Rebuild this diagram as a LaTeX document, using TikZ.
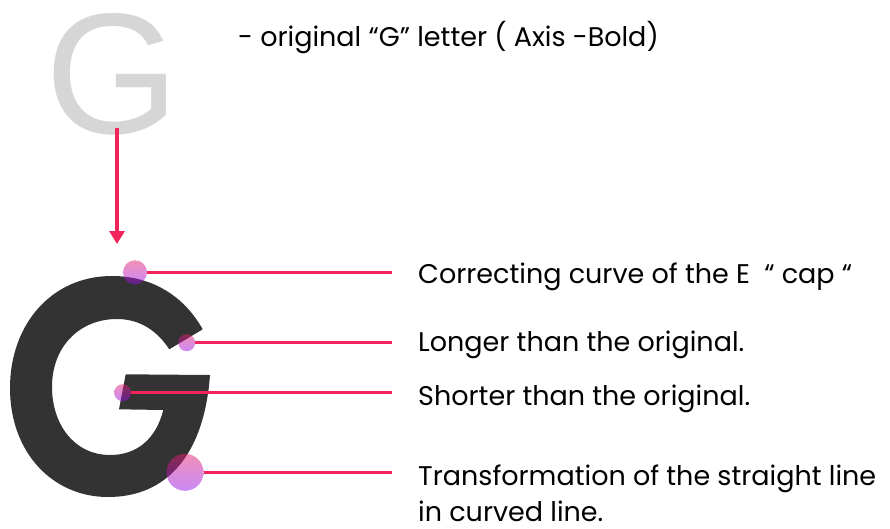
\documentclass[tikz,border=0pt]{standalone}
\usepackage{fontspec}
\setmainfont{Poppins}
\newfontfamily\glyphfont{Liberation Sans}
\usetikzlibrary{arrows.meta}
\definecolor{lead}{HTML}{F2245C}
\definecolor{ink}{HTML}{333333}
\definecolor{ghost}{HTML}{D6D6D6}
\definecolor{dotpink}{HTML}{E5206E}
\definecolor{dotlilac}{HTML}{9414F2}
\begin{document}
\begin{tikzpicture}[x=1pt, y=-1pt,
    every node/.style={inner sep=0pt, font=\fontsize{27}{36.7}\selectfont},
    note/.style={anchor=base west, align=left},
    dot/.style={circle, draw=none, top color=dotpink, bottom color=dotlilac, fill opacity=0.5},
    leader/.style={lead, line width=3pt}]
    \useasboundingbox (0,0) rectangle (890,528);
    % the light "G" on top and its caption
    \node[font=\glyphfont\fontsize{172}{172}\selectfont, text=ghost, text height=126pt, text depth=2pt, anchor=base west] (orig) at (45,133) {G};
    \node[note] (cap) at (238,46) {- original “G” letter ( Axis -Bold)};
    \coordinate (a1) at (117,128);
    \coordinate (a2) at (117,244);
    \draw[lead, line width=4pt, -{Triangle[width=15pt, length=13pt]}] (a1) -- (a2);
    % the redrawn bold "G"
    \fill[ink] (202.7,329.3)
        .. controls (184,296) and (152,276) .. (112,276)
        .. controls (51,276) and (10,325) .. (10,388)
        .. controls (10,453) and (53,497) .. (108,497)
        .. controls (166,497) and (204,456) .. (210,375)
        -- (125.7,374.3) -- (119,409.3) -- (163.3,410)
        .. controls (156,439) and (137,455) .. (110,455)
        .. controls (74,455) and (52,424) .. (52,387)
        .. controls (52,346) and (80,319) .. (117,319)
        .. controls (141,319) and (158,332) .. (169.3,349.3)
        -- cycle;
    \node[dot, minimum size=24pt] (d1) at (135,272.3) {};
    \node[dot, minimum size=17pt] (d2) at (186.7,342.7) {};
    \node[dot, minimum size=17pt] (d3) at (122.7,392.7) {};
    \node[dot, minimum size=37pt] (d4) at (185,472.3) {};
    \coordinate (e1) at (391.7,272.3);
    \coordinate (e2) at (391.7,342.7);
    \coordinate (e3) at (391.7,392.7);
    \coordinate (e4) at (391.7,472.3);
    \draw[leader] (d1.east) -- (e1);
    \draw[leader] (d2.east) -- (e2);
    \draw[leader] (d3.east) -- (e3);
    \draw[leader] (d4.east) -- (e4);
    % notes
    \node[note] (n1) at (418,283.3) {Correcting curve of the E \ “ cap “};
    \node[note] (n2) at (418,351.7) {Longer than the original.};
    \node[note] (n3) at (418,405) {Shorter than the original.};
    \node[note, text depth=0pt] (n4) at (418,521.7) {Transformation of the straight line\\in curved line.};
\end{tikzpicture}
\end{document}
